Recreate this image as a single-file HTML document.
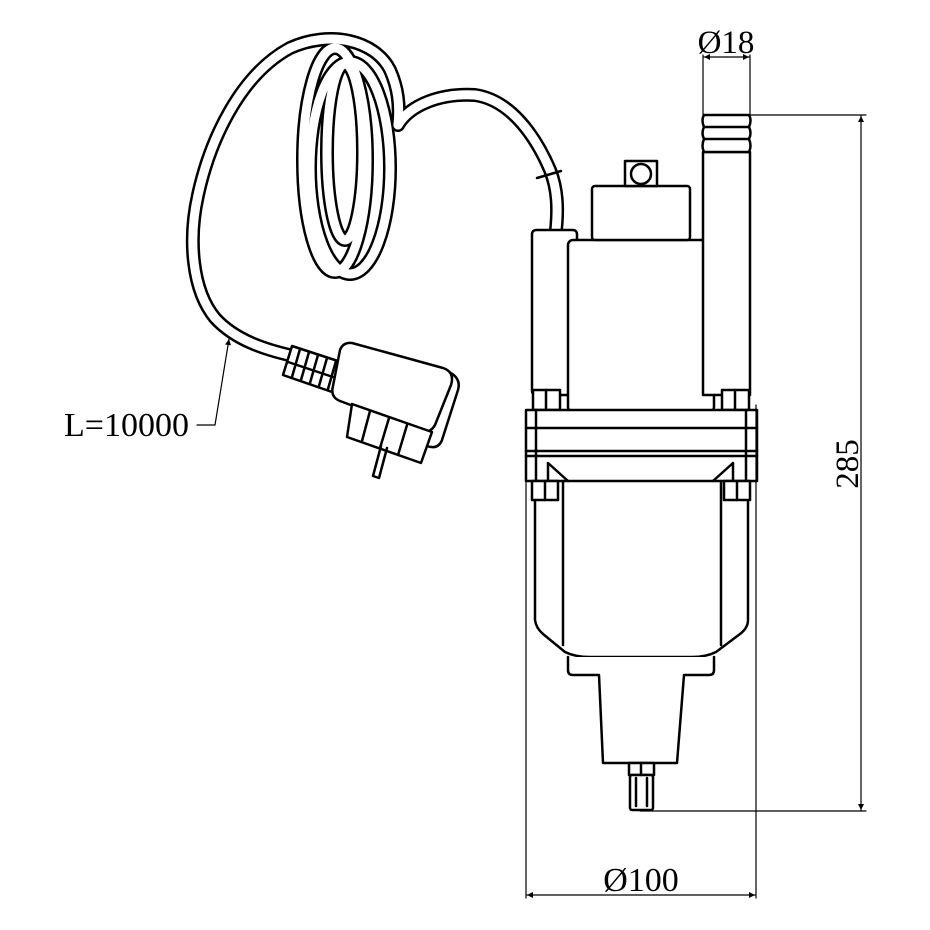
<!DOCTYPE html>
<html><head><meta charset="utf-8"><style>
html,body{margin:0;padding:0;background:#fff;}
svg{display:block;}
text{font-family:"Liberation Serif",serif;fill:#000;}
</style></head><body>
<svg width="930" height="930" viewBox="0 0 930 930" xmlns="http://www.w3.org/2000/svg">
<defs>
<marker id="ar" viewBox="0 0 10 10" refX="10" refY="5" markerWidth="18" markerHeight="6" markerUnits="userSpaceOnUse" orient="auto"><path d="M0,0L10,5L0,10z" fill="#000"/></marker>
</defs>
<g fill="none" stroke-linecap="round" stroke-linejoin="round">
<g stroke="#000" stroke-width="14">
<path d="M298,357 C265,350 235,340 215,318 C192,290 188,240 198,195 C210,140 240,75 290,48 C330,30 375,40 390,70 C398,88 400,105 398,125"/>
<path d="M398,125 C410,105 440,93 475,95 C510,100 535,135 550,170 C558,190 558,210 556,230"/>
<ellipse cx="335" cy="160" rx="32" ry="112"/>
<ellipse cx="350" cy="168" rx="40" ry="106"/>
<ellipse cx="345" cy="152" rx="18" ry="88"/>
</g>
<g stroke="#fff" stroke-width="9">
<path d="M298,357 C265,350 235,340 215,318 C192,290 188,240 198,195 C210,140 240,75 290,48 C330,30 375,40 390,70 C398,88 400,105 398,125"/>
<path d="M398,125 C410,105 440,93 475,95 C510,100 535,135 550,170 C558,190 558,210 556,230"/>
<ellipse cx="335" cy="160" rx="32" ry="112"/>
<ellipse cx="350" cy="168" rx="40" ry="106"/>
<ellipse cx="345" cy="152" rx="18" ry="88"/>
</g>
<g stroke="#000" stroke-width="2.5">
<line x1="537" y1="178" x2="561" y2="171"/>
<rect x="532" y="230" width="45" height="165" rx="4" fill="#fff"/>
<rect x="568" y="240" width="146" height="172" rx="5" fill="#fff"/>
<rect x="592" y="186" width="98" height="54" rx="3" fill="#fff"/>
<rect x="625" y="161" width="32" height="25" fill="#fff"/>
<circle cx="641" cy="174" r="10"/>
<rect x="703" y="152" width="47" height="243" fill="#fff"/>
<path d="M704,115 H749 Q752,120 749,127 Q752,133 749,139 Q752,146 749,152 H704 Q701,146 704,139 Q701,133 704,127 Q701,120 704,115 Z" fill="#fff"/>
<path d="M704,127 H749 M704,139 H749"/>
<rect x="533" y="390" width="27" height="20" fill="#fff"/>
<rect x="722" y="390" width="27" height="20" fill="#fff"/>
<line x1="546" y1="390" x2="546" y2="410"/><line x1="735" y1="390" x2="735" y2="410"/>
<rect x="526" y="410" width="231" height="71" fill="#fff"/>
<path d="M526,428 H757 M526,451 H757 M526,456 H757 M536,410 V481 M746,410 V481"/>
<path d="M548,481 V463 L568,481 M733,481 V463 L713,481"/>
<path d="M535,485 L535,620 Q536,628 543,634 L565,652 Q575,657 590,657 H692 Q706,657 716,652 L740,634 Q748,628 748,620 V485" fill="#fff"/>
<path d="M563,481 V645 M721,481 V645"/>
<rect x="532" y="481" width="26" height="19" fill="#fff"/>
<rect x="724" y="481" width="26" height="19" fill="#fff"/>
<line x1="545" y1="481" x2="545" y2="500"/><line x1="737" y1="481" x2="737" y2="500"/>
<path d="M568,657 V670 Q568,675 573,675 H599 L603,763 H677 L684,675 H709 Q714,675 714,670 V657" fill="#fff"/>
<rect x="629" y="763" width="25" height="12" fill="#fff"/>
<rect x="630" y="775" width="23" height="35" rx="2" fill="#fff"/>
<path d="M641,763 V775 M636,778 V806 M647,778 V806"/>
<path d="M292,346 L344,363 L335,393 L283,375 Z" fill="#fff"/>
<path d="M300,349 L292,377 M309,352 L301,380 M318,355 L310,383 M327,358 L319,386 M336,361 L328,389 M288,362 L339,379"/>
<path d="M444,370 Q462,376 458,390 L442,440 Q438,450 427,446 L405,440" fill="#fff"/>
<path d="M352,343 L443,368 Q455,372 451,385 L435,425 Q430,434 420,431 L340,401 Q330,397 333,386 L340,350 Q343,342 352,343 Z" fill="#fff"/>
<path d="M352,404 L432,432 L421,463 L347,437 Z" fill="#fff"/>
<path d="M370,411 L362,441 M389,418 L380,448 M407,425 L398,455"/>
<path d="M381,446 L373,476 L379,478 L387,448"/>
</g>
<g stroke="#000" stroke-width="1.2">
<path d="M703,55 V115 M750,55 V115 M750,115 H866 M640,811 H866 M526,440 V898 M756,405 V898"/>
<line x1="726" y1="57" x2="704" y2="57" marker-end="url(#ar)"/>
<line x1="726" y1="57" x2="749" y2="57" marker-end="url(#ar)"/>
<line x1="861" y1="460" x2="861" y2="116" marker-end="url(#ar)"/>
<line x1="861" y1="460" x2="861" y2="810" marker-end="url(#ar)"/>
<line x1="641" y1="895" x2="527" y2="895" marker-end="url(#ar)"/>
<line x1="641" y1="895" x2="755" y2="895" marker-end="url(#ar)"/>
<path d="M197,425 H215"/>
<line x1="215" y1="425" x2="229" y2="339" marker-end="url(#ar)"/>
</g>
</g>
<text x="726" y="53" font-size="33" text-anchor="middle">Ø18</text>
<text x="641" y="891" font-size="34" text-anchor="middle">Ø100</text>
<text x="858" y="464" font-size="33" text-anchor="middle" transform="rotate(-90 858 464)">285</text>
<text x="64" y="436" font-size="34">L=10000</text>
</svg>
</body></html>
